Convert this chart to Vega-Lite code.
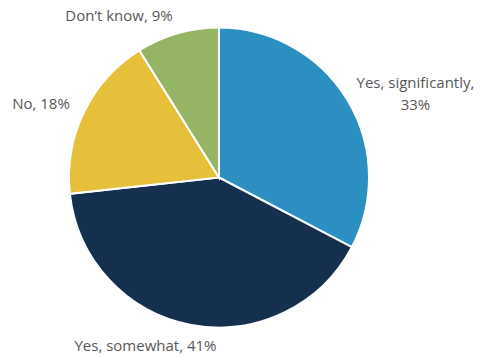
{
  "$schema": "https://vega.github.io/schema/vega-lite/v6.json",
  "width": 484,
  "height": 355,
  "autosize": {"type": "fit", "contains": "padding"},
  "padding": {"left": 0, "top": 0, "right": 32, "bottom": 0},
  "background": "white",
  "view": {"stroke": null},
  "data": {
    "values": [
      {"rank": 1, "cat": "Yes, significantly", "value": 33, "label": ["Yes, significantly,", "33%"]},
      {"rank": 2, "cat": "Yes, somewhat", "value": 41, "label": "Yes, somewhat, 41%"},
      {"rank": 3, "cat": "No", "value": 18, "label": "No, 18%"},
      {"rank": 4, "cat": "Don't know", "value": 9, "label": "Don\u2019t know, 9%"}
    ]
  },
  "encoding": {
    "theta": {"field": "value", "type": "quantitative", "stack": true},
    "order": {"field": "rank", "type": "ordinal"}
  },
  "layer": [
    {
      "mark": {"type": "arc", "outerRadius": 150, "stroke": "white", "strokeWidth": 2},
      "encoding": {
        "color": {
          "field": "cat",
          "type": "nominal",
          "sort": null,
          "legend": null,
          "scale": {
            "domain": ["Yes, significantly", "Yes, somewhat", "No", "Don't know"],
            "range": ["#2b90c1", "#15304e", "#e6bf3b", "#95b464"]
          }
        }
      }
    },
    {
      "mark": {"type": "text", "radius": 170, "dx": 51, "dy": -6, "font": "Open Sans", "fontSize": 15, "fill": "#575757", "align": "center", "baseline": "middle", "lineHeight": 22},
      "encoding": {"text": {"condition": {"test": "datum.rank == 1", "field": "label"}, "value": ""}}
    },
    {
      "mark": {"type": "text", "radius": 170, "dx": -42, "dy": 1, "font": "Open Sans", "fontSize": 15, "fill": "#575757", "align": "center", "baseline": "middle"},
      "encoding": {"text": {"condition": {"test": "datum.rank == 2", "field": "label"}, "value": ""}}
    },
    {
      "mark": {"type": "text", "radius": 170, "dx": -25, "dy": 1, "font": "Open Sans", "fontSize": 15, "fill": "#575757", "align": "center", "baseline": "middle"},
      "encoding": {"text": {"condition": {"test": "datum.rank == 3", "field": "label"}, "value": ""}}
    },
    {
      "mark": {"type": "text", "radius": 170, "dx": -53, "dy": 2, "font": "Open Sans", "fontSize": 15, "fill": "#575757", "align": "center", "baseline": "middle"},
      "encoding": {"text": {"condition": {"test": "datum.rank == 4", "field": "label"}, "value": ""}}
    }
  ]
}
